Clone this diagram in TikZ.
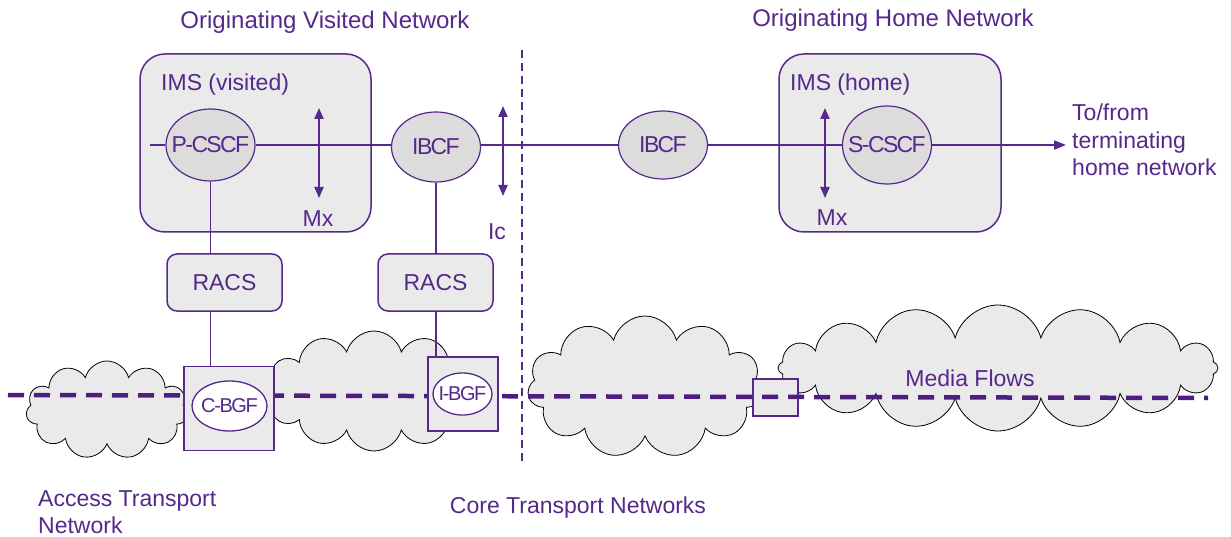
\documentclass[tikz,border=0pt]{standalone}
\usepackage{fontspec}
\setmainfont{Liberation Sans}
\usetikzlibrary{shapes.symbols,shapes.geometric,arrows.meta,positioning}
\definecolor{imspurple}{HTML}{55288A}
\definecolor{flowpurple}{HTML}{4B1E80}
\definecolor{boxgray}{HTML}{EAEAEA}
\definecolor{ellgray}{HTML}{DCDCDC}
\newcommand{\bodyfont}{\fontsize{23}{27.5}\selectfont}
\newfontfamily\tightfont[LetterSpace=-7]{Liberation Sans}
% function names may run past the inscribed box of their ellipse
\newcommand{\fname}[1]{\makebox[0pt][c]{#1}}
\begin{document}
\begin{tikzpicture}[x=1pt,y=-1pt]
        % Styles for the domains, functions and lines
        \tikzset{
            imsdomain/.style={
                draw=imspurple,
                line width=1.5pt,
                fill=boxgray,
                rounded corners=25pt,
                inner sep=0pt
            },
            racsbox/.style={
                draw=imspurple,
                line width=1.5pt,
                fill=boxgray,
                rounded corners=10pt,
                minimum width=115pt,
                minimum height=57pt,
                text=imspurple,
                font=\bodyfont
            },
            func/.style={
                draw=imspurple,
                line width=1.2pt,
                fill=ellgray,
                ellipse,
                inner sep=0pt,
                minimum width=89pt,
                minimum height=72pt,
                text=imspurple,
                font=\tightfont\fontsize{23}{26}\selectfont
            },
            gateway/.style={
                draw=imspurple,
                line width=1.3pt,
                fill=boxgray,
                rectangle,
                inner sep=0pt
            },
            gwfunc/.style={
                draw=imspurple,
                line width=1.3pt,
                fill=white,
                ellipse,
                inner sep=0pt,
                text=imspurple,
                font=\tightfont\fontsize{20}{24}\selectfont
            },
            cloudy/.style={
                draw=black,
                line width=0.8pt,
                fill=boxgray,
                cloud,
                cloud ignores aspect,
                inner sep=0pt
            },
            txt/.style={
                text=imspurple,
                font=\bodyfont,
                inner sep=0pt
            },
            sig/.style={
                draw=imspurple,
                line width=1.8pt
            },
            ifarrow/.style={
                draw=imspurple,
                line width=2pt,
                {Triangle[length=11pt,width=9pt]}-{Triangle[length=11pt,width=9pt]}
            },
            racslink/.style={
                draw=imspurple,
                line width=1.3pt
            }
        }
        \useasboundingbox (0,0) rectangle (1231,537);
        % Transport clouds
        \node[cloudy, cloud puffs=11, minimum width=162pt, minimum height=98pt] (access) at (107,410) {};
        \node[cloudy, cloud puffs=12, minimum width=220pt, minimum height=120pt] (corev) at (374,391) {};
        \node[cloudy, cloud puffs=11, minimum width=235pt, minimum height=142pt] (coret) at (645,387) {};
        \node[cloudy, cloud puffs=16, minimum width=440pt, minimum height=126pt] (coreh) at (998,368) {};
        % Transit border box under the media flow
        \node[gateway, minimum width=45pt, minimum height=37pt] (transit) at (775.5,397.5) {};
        % Media flow
        \coordinate (mediastart) at (8,395);
        \coordinate (mediaend) at (1208,398);
        \draw[flowpurple, line width=4.5pt, dash pattern=on 16pt off 10pt] (mediastart) -- (mediaend);
        % Border gateways
        \node[gateway, minimum width=90pt, minimum height=84pt] (cbgfbox) at (229,408.5) {};
        \node[gwfunc, minimum width=75pt, minimum height=50pt] (cbgf) at (229.5,406) {\fname{C-BGF}};
        \node[gateway, minimum width=70pt, minimum height=74pt] (ibgfbox) at (463,394) {};
        \node[gwfunc, minimum width=59pt, minimum height=42pt] (ibgf) at (462.5,394) {\fname{I-BGF}};
        % IMS domains
        \node[imsdomain, minimum width=231pt, minimum height=178pt] (imsv) at (255.5,143) {};
        \node[imsdomain, minimum width=222pt, minimum height=178pt] (imsh) at (890,143) {};
        \node[txt, anchor=west] (imsvlabel) at (161,85) {IMS (visited)};
        \node[txt, anchor=west] (imshlabel) at (790,85) {IMS (home)};
        % Control functions
        \node[func] (pcscf) at (210.5,145) {\fname{P-CSCF}};
        \node[func, minimum height=70pt] (ibcfv) at (436,147) {\fname{IBCF}};
        \node[func, minimum height=68pt] (ibcfh) at (663,145) {\fname{IBCF}};
        \node[func, minimum height=78pt] (scscf) at (887,145) {\fname{S-CSCF}};
        \node[racsbox] (racsv) at (224.5,282.5) {RACS};
        \node[racsbox] (racsi) at (435.5,282.5) {RACS};
        % Signalling path
        \coordinate (sigstart) at (150,145);
        \coordinate (sigend) at (1066,145);
        \draw[sig] (sigstart) -- (pcscf.west);
        \draw[sig] (pcscf.east) -- (ibcfv.west |- pcscf.east);
        \draw[sig] (ibcfv.east |- pcscf.east) -- (ibcfh.west);
        \draw[sig] (ibcfh.east) -- (scscf.west);
        \draw[sig, -{Triangle[length=12pt,width=9pt]}] (scscf.east) -- (sigend);
        % Links to the resource control and gateways
        \draw[racslink] (pcscf.south) -- (pcscf.south |- racsv.north);
        \draw[racslink] (pcscf.south |- racsv.south) -- (pcscf.south |- cbgfbox.north);
        \draw[racslink] (ibcfv.south) -- (ibcfv.south |- racsi.north);
        \draw[racslink] (ibcfv.south |- racsi.south) -- (ibcfv.south |- ibgfbox.north);
        % Reference points
        \foreach \name/\x/\ytop/\ybot in {mxv/319/108/198, ic/503/106/196, mxh/825/108/198} {
            \coordinate (\name top) at (\x,\ytop);
            \coordinate (\name bot) at (\x,\ybot);
            \draw[ifarrow] (\name top) -- (\name bot);
        }
        \node[txt] (mxvlabel) at (318,219) {Mx};
        \node[txt] (iclabel) at (497,232) {Ic};
        \node[txt] (mxhlabel) at (832,218) {Mx};
        % Network border
        \coordinate (bordertop) at (522,50);
        \coordinate (borderbot) at (522,462);
        \draw[imspurple, line width=2pt, dash pattern=on 8pt off 5pt] (bordertop) -- (borderbot);
        % Network names
        \node[txt, font=\fontsize{24}{28}\selectfont] (visited) at (325,22) {Originating Visited Network};
        \node[txt, font=\fontsize{24}{28}\selectfont] (home) at (893,20) {Originating Home Network};
        \node[txt, anchor=west, align=left] (onward) at (1072,140) {To/from\\terminating\\home network};
        \node[txt] (media) at (970,378) {Media Flows};
        \node[txt, anchor=west, align=left] (accessname) at (38,512) {Access Transport\\Network};
        \node[txt] (corename) at (578,508) {Core Transport Networks};
    \end{tikzpicture}
\end{document}
